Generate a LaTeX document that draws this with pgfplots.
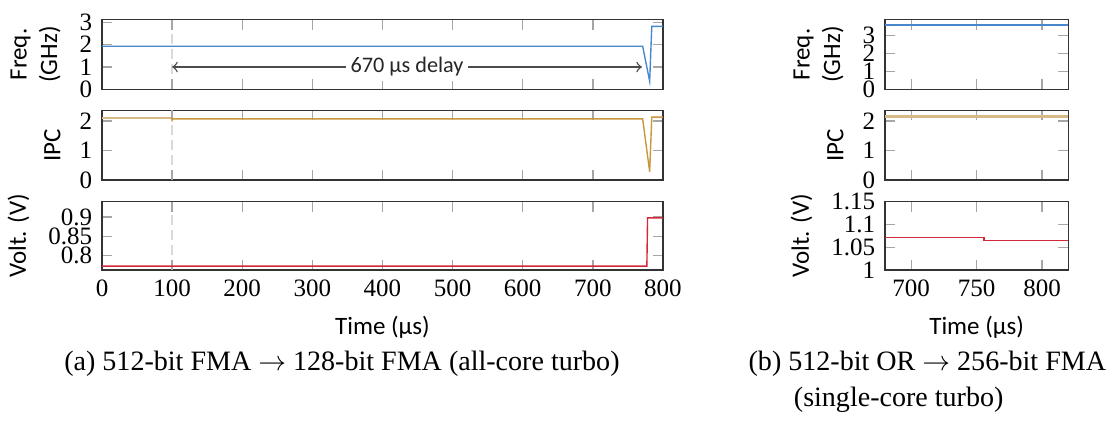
\documentclass[border=0pt]{standalone}
\usepackage{fontspec}
\setmainfont{Liberation Serif}
\newfontfamily\lab{Carlito}
\newfontfamily\tickf{Liberation Serif}
\usepackage{pgfplots}
\pgfplotsset{compat=1.18}

\definecolor{freqc}{RGB}{70,135,205}
\definecolor{ipcc}{RGB}{200,150,60}
\definecolor{ipcl}{RGB}{215,185,135}
\definecolor{voltc}{RGB}{210,40,55}

\pgfplotsset{
  stack/.style={
    scale only axis, anchor=north west,
    axis line style={black!80, line width=0.5pt},
    tick style={gray!70, line width=0.5pt},
    major tick length=3.6pt,
    tick align=inside,
    /pgf/number format/assume math mode=true,
    xlabel style={font=\lab\fontsize{9}{11}\selectfont},
    ylabel style={font=\lab\fontsize{9}{11}\selectfont, align=center},
    xticklabel style={font=\tickf\fontsize{9}{10}\selectfont},
    yticklabel style={font=\tickf\fontsize{9}{10}\selectfont},
    every axis plot/.append style={line width=0.5pt},
  },
  leftx/.style={xmin=0, xmax=800, xtick={0,100,...,800},
    extra x ticks={100}, extra x tick labels={},
    extra x tick style={grid=major,
      major grid style={gray!30, line width=0.6pt, dash pattern=on 3.6pt off 1.8pt}}},
  rightx/.style={xmin=680, xmax=820, xtick={700,750,800}},
}

\begin{document}
\begin{tikzpicture}
\useasboundingbox (0,0) rectangle (400.32pt,-153.36pt);

% (a) left column
\begin{axis}[stack, leftx, at={(36.72pt,-7.09pt)}, width=201.96pt, height=25.06pt,
  xticklabels={}, ymin=0, ymax=3.12, ytick={0,1,2,3}, ylabel={Freq.\\(GHz)}]
  \addplot[freqc] coordinates {(0,1.93) (771,1.93) (781,0.36) (784,2.82) (800,2.82)};
  \draw[<->, >=to, black!70, line width=0.5pt] (100,1) -- node[fill=white, inner sep=1.5pt,
    font=\lab\fontsize{8}{10}\selectfont, text=black!85] {670 µs delay} (770,1);
\end{axis}

\begin{axis}[stack, leftx, at={(36.72pt,-39.71pt)}, width=201.96pt, height=25.09pt,
  xticklabels={}, ymin=0, ymax=2.36, ytick={0,1,2}, ylabel={IPC}]
  \addplot[ipcl, line width=0.9pt] coordinates {(0,2.1) (99,2.1)};
  \addplot[ipcc] coordinates {(99,2.1) (100,2.02) (101,2.07) (771,2.07) (781,0.28) (784,2.13) (800,2.13)};
\end{axis}

\begin{axis}[stack, leftx, at={(36.72pt,-72.61pt)}, width=201.96pt, height=24.59pt,
  ymin=0.762, ymax=0.94, ytick={0.8,0.85,0.9}, ylabel={Volt. (V)}, xlabel={Time (µs)}]
  \addplot[voltc] coordinates {(0,0.772) (777,0.772) (778,0.898) (800,0.898)};
\end{axis}

% (b) right column
\begin{axis}[stack, rightx, at={(318.6pt,-7.09pt)}, width=65.99pt, height=25.06pt,
  xticklabels={}, ymin=0, ymax=3.9, ytick={0,1,2,3}, ylabel={Freq.\\(GHz)}]
  \addplot[freqc] coordinates {(680,3.6) (820,3.6)};
\end{axis}

\begin{axis}[stack, rightx, at={(318.6pt,-39.71pt)}, width=65.99pt, height=25.09pt,
  xticklabels={}, ymin=0, ymax=2.36, ytick={0,1,2}, ylabel={IPC}]
  \addplot[ipcl, line width=1.1pt] coordinates {(680,2.15) (820,2.15)};
\end{axis}

\begin{axis}[stack, rightx, at={(318.6pt,-72.61pt)}, width=65.99pt, height=24.59pt,
  ymin=1, ymax=1.15, ytick={1,1.05,1.1,1.15}, ylabel={Volt. (V)}, xlabel={Time (µs)}]
  \addplot[voltc] coordinates {(680,1.072) (755.5,1.072) (755.5,1.065) (820,1.065)};
\end{axis}

% captions
\node[anchor=base, inner sep=0pt, font=\fontsize{10.1}{12}\selectfont] at (123.1pt,-133.2pt)
  {(a) 512-bit FMA $\rightarrow$ 128-bit FMA (all-core turbo)};
\node[anchor=base west, inner sep=0pt, font=\fontsize{10.1}{12}\selectfont] at (269.3pt,-133.2pt)
  {(b) 512-bit OR $\rightarrow$ 256-bit FMA};
\node[anchor=base west, inner sep=0pt, font=\fontsize{10.1}{12}\selectfont] at (285.6pt,-146.2pt)
  {(single-core turbo)};
\end{tikzpicture}
\end{document}
